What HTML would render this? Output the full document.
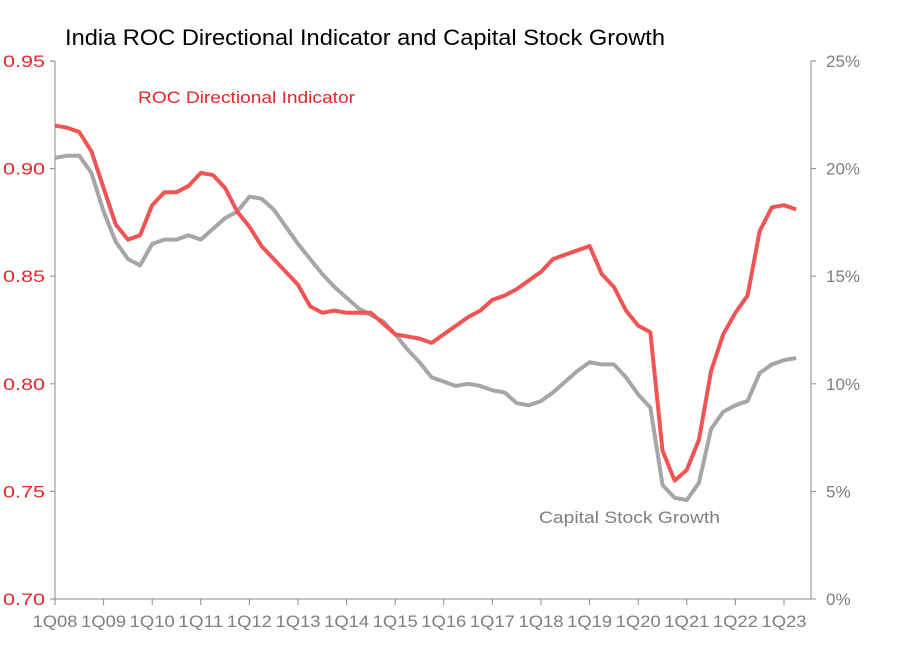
<!DOCTYPE html>
<html><head><meta charset="utf-8"><style>
body{margin:0;background:#fff;}
svg text{font-family:"Liberation Sans",sans-serif;}
</style></head><body>
<svg id="c" width="910" height="660" xmlns="http://www.w3.org/2000/svg">
<text x="65" y="45" font-size="22" fill="#000" textLength="600" lengthAdjust="spacingAndGlyphs">India ROC Directional Indicator and Capital Stock Growth</text>
<g id="axes"></g><g id="series"></g>
<text x="138" y="103" font-size="17" fill="#e8262b" textLength="217" lengthAdjust="spacingAndGlyphs">ROC Directional Indicator</text>
<text x="539" y="523" font-size="17" fill="#7f7f7f" textLength="181" lengthAdjust="spacingAndGlyphs">Capital Stock Growth</text>
</svg>
<script>
const years=["1Q08","1Q09","1Q10","1Q11","1Q12","1Q13","1Q14","1Q15","1Q16","1Q17","1Q18","1Q19","1Q20","1Q21","1Q22","1Q23"];
const leftTicks=[0.70,0.75,0.80,0.85,0.90,0.95];
const rightTicks=[0,5,10,15,20,25];
const roc=[.920,.919,.917,.908,.891,.874,.867,.869,.883,.889,.889,.892,.898,.897,.891,.880,.873,.864,.858,.852,.846,.836,.833,.834,.833,.833,.833,.828,.823,.822,.821,.819,.823,.827,.831,.834,.839,.841,.844,.848,.852,.858,.860,.862,.864,.851,.845,.834,.827,.824,.769,.755,.760,.774,.806,.823,.833,.841,.871,.882,.883,.881];
const capital=[20.5,20.6,20.6,19.8,18.0,16.6,15.8,15.5,16.5,16.7,16.7,16.9,16.7,17.2,17.7,18.0,18.7,18.6,18.1,17.3,16.5,15.8,15.1,14.5,14.0,13.5,13.2,12.9,12.3,11.6,11.0,10.3,10.1,9.9,10.0,9.9,9.7,9.6,9.1,9.0,9.2,9.6,10.1,10.6,11.0,10.9,10.9,10.3,9.5,8.9,5.3,4.7,4.6,5.4,7.9,8.7,9.0,9.2,10.5,10.9,11.1,11.2];
const X0=55,X1=811,Y0=599,Y1=61,QW=12.15;
const xq=i=>X0+i*QW;
const yl=v=>Y0-(v-0.70)/0.25*(Y0-Y1);
const yr=v=>Y0-v/25*(Y0-Y1);
const NS="http://www.w3.org/2000/svg";
const ax=document.getElementById('axes'),se=document.getElementById('series');
function mk(tag,at,par){const e=document.createElementNS(NS,tag);for(const k in at)e.setAttribute(k,at[k]);par.appendChild(e);return e;}
let e;
e=mk('line',{x1:X0,y1:Y1,x2:X0,y2:Y0,stroke:'#888','stroke-width':1},ax);

e=mk('line',{x1:X1,y1:Y1,x2:X1,y2:Y0,stroke:'#888','stroke-width':1},ax);

e=mk('line',{x1:X0,y1:Y0,x2:X1,y2:Y0,stroke:'#888','stroke-width':1},ax);

leftTicks.forEach(v=>{const y=yl(v);
 mk('line',{x1:X0-5,y1:y,x2:X0,y2:y,stroke:'#888'},ax);
 e=mk('text',{x:3,y:y+6,'font-size':17,fill:'#e8262b',textLength:42,lengthAdjust:'spacingAndGlyphs'},ax);e.textContent=v.toFixed(2);
 });
rightTicks.forEach(v=>{const y=yr(v);
 mk('line',{x1:X1,y1:y,x2:X1+5,y2:y,stroke:'#888'},ax);
 e=mk('text',{x:826,y:y+6,'font-size':17,fill:'#7f7f7f'},ax);e.textContent=v+'%';
 });
years.forEach((t,i)=>{const x=xq(i*4);
 mk('line',{x1:x,y1:Y0,x2:x,y2:Y0+6,stroke:'#888'},ax);
 e=mk('text',{x:x,y:Y0+28,'text-anchor':'middle','font-size':17,fill:'#7f7f7f',textLength:45,lengthAdjust:'spacingAndGlyphs'},ax);e.textContent=t;
 });
e=mk('polyline',{points:capital.map((v,i)=>xq(i)+','+yr(v)).join(' '),fill:'none',stroke:'#a6a6a6','stroke-width':4,'stroke-linejoin':'round'},se);

e=mk('polyline',{points:roc.map((v,i)=>xq(i)+','+yl(v)).join(' '),fill:'none',stroke:'#f05454','stroke-width':4,'stroke-linejoin':'round'},se);

</script>
</body></html>
